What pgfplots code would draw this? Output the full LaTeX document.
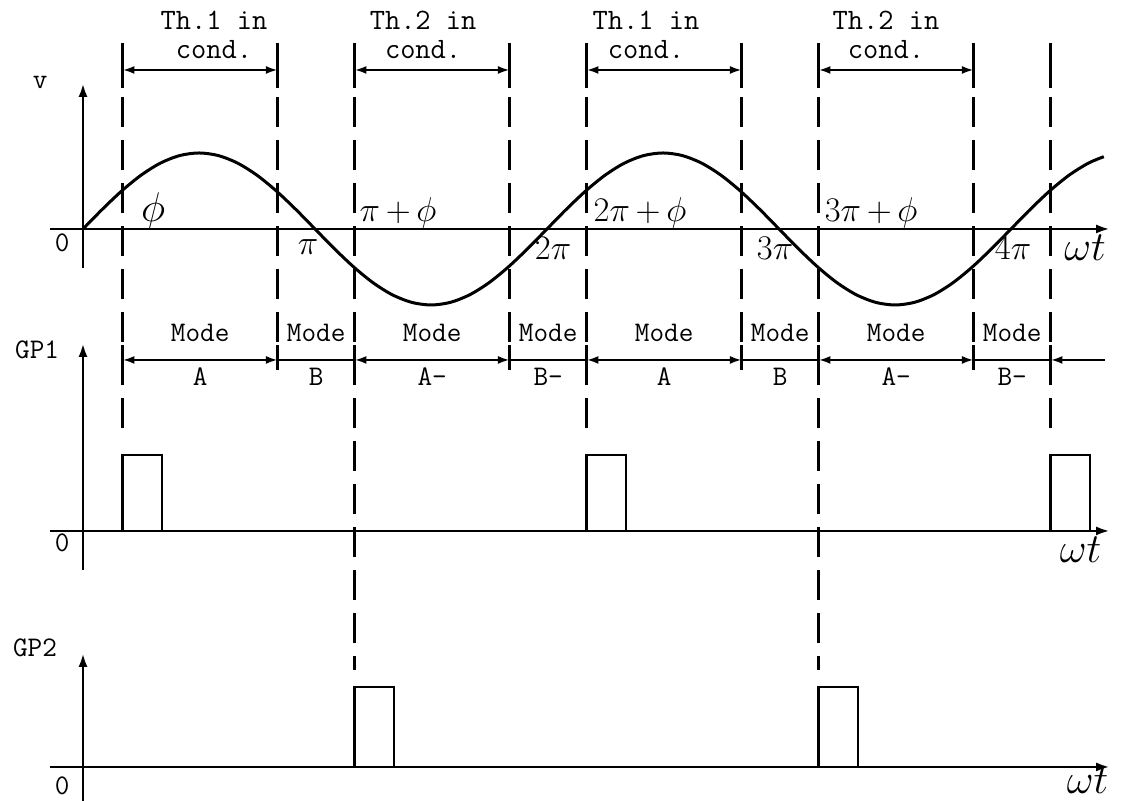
\documentclass[border=0pt]{standalone}
\usepackage{pgfplots}
\pgfplotsset{compat=1.18}
\usetikzlibrary{arrows.meta}
\usepackage{fontspec}
\newcommand\cour{\ttfamily\addfontfeatures{FakeBold=0.6}}

% x in units of pi (omega t / pi), y in drawing units
\tikzset{
  tip/.style={-{Latex[length=7pt,width=4.5pt]}},
  dim/.style={{Latex[length=6pt,width=4pt]}-{Latex[length=6pt,width=4pt]}, line width=1.4pt},
  lab/.style={font=\cour\fontsize{14.2}{16}\selectfont, inner sep=0pt},
  thlab/.style={font=\cour\fontsize{14.8}{14.2}\selectfont, inner sep=0pt, align=center},
  mlab/.style={font=\fontsize{16}{19}\selectfont, inner sep=0pt},
  wlab/.style={font=\fontsize{20}{24}\selectfont, inner sep=0pt},
}

\begin{document}
\begin{tikzpicture}
\begin{axis}[
  width=565.5pt, height=400.5pt, scale only axis,
  xmin=-0.35776, xmax=4.51724, ymin=0, ymax=801,
  hide axis, clip=false,
]
% ---------------- supply voltage v ----------------
\addplot[black, line width=1.5pt, smooth] coordinates {
 (0,572) (0.0833,591.67) (0.1667,610) (0.25,625.74) (0.3333,637.82) (0.4167,645.41)
 (0.5,648) (0.5833,645.41) (0.6667,637.82) (0.75,625.74) (0.8333,610) (0.9167,591.67)
 (1,572) (1.0833,552.33) (1.1667,534) (1.25,518.26) (1.3333,506.18) (1.4167,498.59)
 (1.5,496) (1.5833,498.59) (1.6667,506.18) (1.75,518.26) (1.8333,534) (1.9167,552.33)
 (2,572) (2.0833,591.67) (2.1667,610) (2.25,625.74) (2.3333,637.82) (2.4167,645.41)
 (2.5,648) (2.5833,645.41) (2.6667,637.82) (2.75,625.74) (2.8333,610) (2.9167,591.67)
 (3,572) (3.0833,552.33) (3.1667,534) (3.25,518.26) (3.3333,506.18) (3.4167,498.59)
 (3.5,496) (3.5833,498.59) (3.6667,506.18) (3.75,518.26) (3.8333,534) (3.9167,552.33)
 (4,572) (4.0833,591.67) (4.1667,610) (4.25,625.74) (4.3333,637.82) (4.4,644.28)
};

% ---------------- axes ----------------
\addplot[black, line width=1.4pt, tip] coordinates {(-0.142,572) (4.427,572)};
\addplot[black, line width=1.4pt, tip] coordinates {(0,533) (0,718)};
\addplot[black, line width=1.4pt, tip] coordinates {(-0.142,270) (4.427,270)};
\addplot[black, line width=1.4pt, tip] coordinates {(0,231) (0,458)};
\addplot[black, line width=1.4pt, tip] coordinates {(-0.142,34) (4.427,34)};
\addplot[black, line width=1.4pt, tip] coordinates {(0,0) (0,148)};

% ---------------- gate pulses ----------------
\addplot[black, line width=1.3pt] coordinates {(0.17,270) (0.17,346) (0.34,346) (0.34,270)};
\addplot[black, line width=1.3pt] coordinates {(2.17,270) (2.17,346) (2.34,346) (2.34,270)};
\addplot[black, line width=1.3pt] coordinates {(4.17,270) (4.17,346) (4.34,346) (4.34,270)};
\addplot[black, line width=1.3pt] coordinates {(1.17,34) (1.17,114) (1.34,114) (1.34,34)};
\addplot[black, line width=1.3pt] coordinates {(3.17,34) (3.17,114) (3.34,114) (3.34,34)};

% ---------------- boundary lines ----------------
% solid ticks framing the conduction arrows and the mode line
\foreach \xx in {0.17,0.84,1.17,1.84,2.17,2.84,3.17,3.84,4.17}{
  \edef\temp{\noexpand\addplot[black, line width=1.4pt] coordinates {(\xx,758) (\xx,713)};}\temp
  \edef\temp{\noexpand\addplot[black, line width=1.4pt] coordinates {(\xx,456) (\xx,431)};}\temp
}
% firing instants of Th.1 (down to GP1)
\foreach \xx in {0.17,2.17,4.17}{
  \edef\temp{\noexpand\addplot[black, line width=1.4pt, dash pattern=on 15pt off 6.5pt] coordinates {(\xx,704) (\xx,364)};}\temp
}
% firing instants of Th.2 (down to GP2)
\foreach \xx in {1.17,3.17}{
  \edef\temp{\noexpand\addplot[black, line width=1.4pt, dash pattern=on 15pt off 6.5pt] coordinates {(\xx,704) (\xx,131)};}\temp
}
% current extinction
\foreach \xx in {0.84,1.84,2.84,3.84}{
  \edef\temp{\noexpand\addplot[black, line width=1.4pt, dash pattern=on 15pt off 6.5pt] coordinates {(\xx,704) (\xx,433)};}\temp
}

% ---------------- conduction intervals ----------------
\draw[dim] (0.17,731) -- (0.84,731);
\draw[dim] (1.17,731) -- (1.84,731);
\draw[dim] (2.17,731) -- (2.84,731);
\draw[dim] (3.17,731) -- (3.84,731);
\node[thlab] at (0.565,766) {Th.1 in\\cond.};
\node[thlab] at (1.466,766) {Th.2 in\\cond.};
\node[thlab] at (2.427,766) {Th.1 in\\cond.};
\node[thlab] at (3.461,766) {Th.2 in\\cond.};

% ---------------- operating modes ----------------
\draw[dim] (0.17,441) -- (0.84,441);
\draw[line width=1.4pt] (0.84,441) -- (1.17,441);
\draw[dim] (1.17,441) -- (1.84,441);
\draw[line width=1.4pt] (1.84,441) -- (2.17,441);
\draw[dim] (2.17,441) -- (2.84,441);
\draw[line width=1.4pt] (2.84,441) -- (3.17,441);
\draw[dim] (3.17,441) -- (3.84,441);
\draw[line width=1.4pt] (3.84,441) -- (4.17,441);
\draw[{Latex[length=6pt,width=4pt]}-, line width=1.4pt] (4.17,441) -- (4.405,441);

\node[lab] at (0.505,468) {Mode};  \node[lab] at (0.505,424) {A};
\node[lab] at (1.005,468) {Mode};  \node[lab] at (1.005,424) {B};
\node[lab] at (1.505,468) {Mode};  \node[lab] at (1.505,424) {A-};
\node[lab] at (2.005,468) {Mode};  \node[lab] at (2.005,424) {B-};
\node[lab] at (2.505,468) {Mode};  \node[lab] at (2.505,424) {A};
\node[lab] at (3.005,468) {Mode};  \node[lab] at (3.005,424) {B};
\node[lab] at (3.505,468) {Mode};  \node[lab] at (3.505,424) {A-};
\node[lab] at (4.005,468) {Mode};  \node[lab] at (4.005,424) {B-};

% ---------------- labels ----------------
\node[lab] at (-0.185,719) {v};
\node[lab] at (-0.198,451) {GP1};
\node[lab] at (-0.207,153) {GP2};
\node[lab] at (-0.09,558) {0};
\node[lab] at (-0.09,258) {0};
\node[lab] at (-0.09,15) {0};

\node[wlab] at (0.302,590) {$\phi$};
\node[mlab] at (1.358,588) {$\pi\,{+}\,\phi$};
\node[mlab] at (2.401,588) {$2\pi\,{+}\,\phi$};
\node[mlab] at (3.397,588) {$3\pi\,{+}\,\phi$};
\node[mlab] at (0.97,554) {$\pi$};
\node[mlab] at (2.026,553) {$2\pi$};
\node[mlab] at (2.983,553) {$3\pi$};
\node[mlab] at (4.009,553) {$4\pi$};
\node[wlab] at (4.319,553) {$\omega t$};
\node[wlab] at (4.30,251) {$\omega t$};
\node[wlab] at (4.33,20) {$\omega t$};
\end{axis}
\pgfresetboundingbox
\path[use as bounding box] (current axis.south west) rectangle (current axis.north east);
\end{tikzpicture}
\end{document}
